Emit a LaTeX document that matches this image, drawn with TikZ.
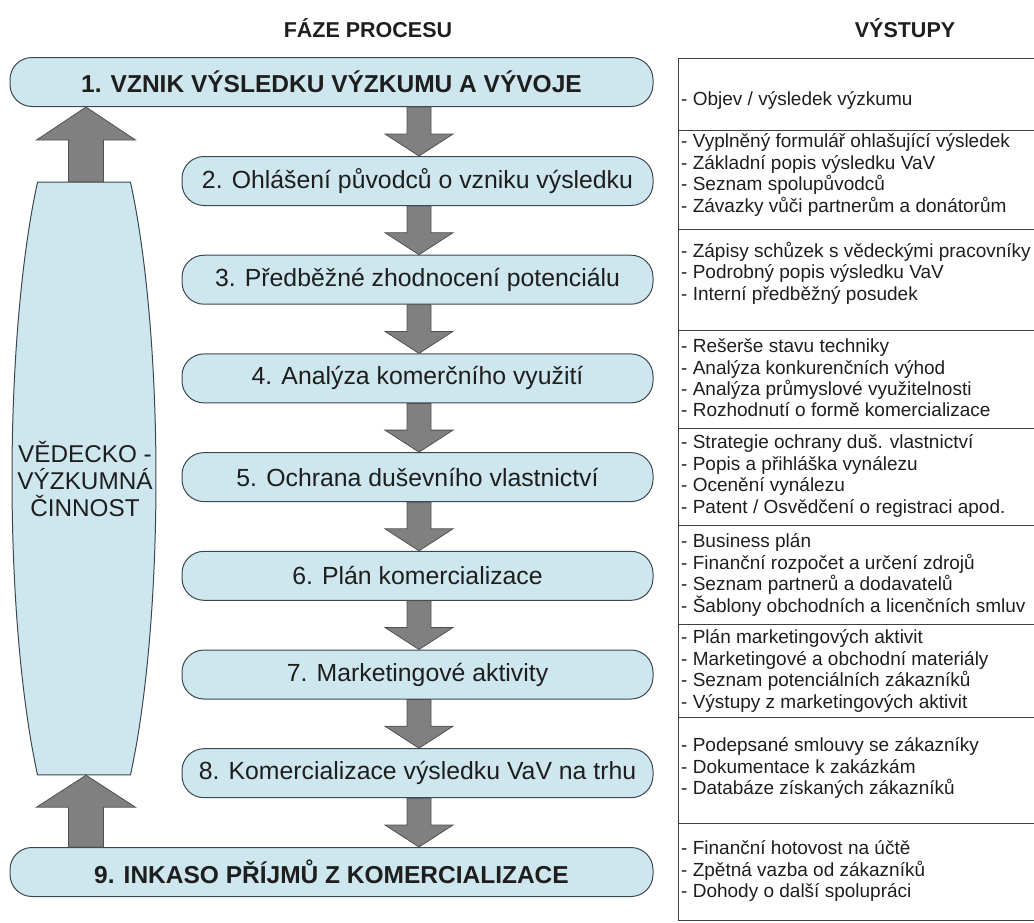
\documentclass[tikz,border=0pt]{standalone}
\usepackage{fontspec}
\setmainfont{Liberation Sans}
\usetikzlibrary{calc}
\definecolor{boxfill}{RGB}{206,231,239}
\definecolor{boxline}{RGB}{60,72,80}
\definecolor{arrfill}{RGB}{128,128,128}
\definecolor{arrline}{RGB}{80,80,80}
\definecolor{txt}{RGB}{30,30,30}
\begin{document}
\begin{tikzpicture}[x=1pt,y=-1pt,
  phase/.style={draw=boxline, fill=boxfill, line width=1pt, rounded corners=22pt, inner sep=0pt,
    minimum height=49pt, text=txt, font=\fontsize{24.8}{28}\selectfont},
  bigphase/.style={phase, font=\fontsize{24.5}{28}\selectfont\bfseries},
  outtext/.style={anchor=west, align=left, inner sep=0pt, text=txt, font=\fontsize{19}{21.4}\selectfont},
  head/.style={font=\fontsize{21.5}{26}\selectfont\bfseries, text=txt},
  blk/.style={fill=arrfill, draw=arrline, line width=0.8pt, line join=miter},
  rowline/.style={draw=black!75, line width=1pt}]
\useasboundingbox (0,0) rectangle (1034,922);

% headings
\node[head] (h1) at (368,28) {FÁZE PROCESU};
\node[head] (h2) at (905,28) {VÝSTUPY};

% research ellipse
\filldraw[draw=boxline, fill=boxfill, line width=1pt]
  plot[domain=130.2:229.8, samples=60, smooth] ({84+72*cos(\x)},{478.5-388*sin(\x)})
  -- plot[domain=-49.8:49.8, samples=60, smooth] ({84+72*cos(\x)},{478.5-388*sin(\x)}) -- cycle;
\node[minimum width=144pt, minimum height=593pt, inner sep=0pt, align=center, text=txt,
  font=\fontsize{24.3}{27}\selectfont] (ell) at (85,478.5) {VĚDECKO -\\VÝZKUMNÁ\\ČINNOST};

% phases
\node[bigphase, minimum width=643pt] (b1) at (331.5,82) {1. VZNIK VÝSLEDKU VÝZKUMU A VÝVOJE};
\node[phase, minimum width=471pt] (b2) at (417.5,181) {2. Ohlášení původců o vzniku výsledku};
\node[phase, minimum width=471pt] (b3) at (417.5,279.7) {3. Předběžné zhodnocení potenciálu};
\node[phase, minimum width=471pt] (b4) at (417.5,378.4) {4. Analýza komerčního využití};
\node[phase, minimum width=471pt] (b5) at (417.5,477.1) {5. Ochrana duševního vlastnictví};
\node[phase, minimum width=471pt] (b6) at (417.5,575.8) {6. Plán komercializace};
\node[phase, minimum width=471pt] (b7) at (417.5,674.5) {7. Marketingové aktivity};
\node[phase, minimum width=471pt] (b8) at (417.5,773.2) {8. Komercializace výsledku VaV na trhu};
\node[bigphase, minimum width=643pt] (b9) at (331.5,872) {9. INKASO PŘÍJMŮ Z KOMERCIALIZACE};

% block arrows
\coordinate (dx) at (419,0);
\coordinate (lx) at (86,0);
\newcommand{\blkdown}[2]{%
  \filldraw[blk] ($(#1.south -| dx)+(-12,0)$) -- ($(#1.south -| dx)+(12,0)$)
    -- ($(#2.north -| dx)+(12,-22)$) -- ($(#2.north -| dx)+(34,-22)$) -- (#2.north -| dx)
    -- ($(#2.north -| dx)+(-34,-22)$) -- ($(#2.north -| dx)+(-12,-22)$) -- cycle;}
\blkdown{b1}{b2}
\blkdown{b2}{b3}
\blkdown{b3}{b4}
\blkdown{b4}{b5}
\blkdown{b5}{b6}
\blkdown{b6}{b7}
\blkdown{b7}{b8}
\blkdown{b8}{b9}
\filldraw[blk] ($(ell.north -| lx)+(-17.5,0)$) -- ($(ell.north -| lx)+(17.5,0)$)
  -- ($(b1.south -| lx)+(17.5,33)$) -- ($(b1.south -| lx)+(49.5,33)$) -- (b1.south -| lx)
  -- ($(b1.south -| lx)+(-49.5,33)$) -- ($(b1.south -| lx)+(-17.5,33)$) -- cycle;
\filldraw[blk] ($(b9.north -| lx)+(-17.5,0)$) -- ($(b9.north -| lx)+(17.5,0)$)
  -- ($(ell.south -| lx)+(17.5,32)$) -- ($(ell.south -| lx)+(49.5,32)$) -- (ell.south -| lx)
  -- ($(ell.south -| lx)+(-49.5,32)$) -- ($(ell.south -| lx)+(-17.5,32)$) -- cycle;

% outputs table
\draw[rowline] (678,58) -- (678,920);
\foreach \yy in {58,130,229,330,428,525,624,717,823,920}
  \draw[rowline] (678,\yy) -- (1034,\yy);

\node[outtext] (o1) at (681,100) {- Objev / výsledek výzkumu};
\node[outtext] (o2) at (681,175) {- Vyplněný formulář ohlašující výsledek\\- Základní popis výsledku VaV\\- Seznam spolupůvodců\\- Závazky vůči partnerům a donátorům};
\node[outtext] (o3) at (681,273) {- Zápisy schůzek s vědeckými pracovníky\\- Podrobný popis výsledku VaV\\- Interní předběžný posudek};
\node[outtext] (o4) at (681,378) {- Rešerše stavu techniky\\- Analýza konkurenčních výhod\\- Analýza průmyslové využitelnosti\\- Rozhodnutí o formě komercializace};
\node[outtext] (o5) at (681,476) {- Strategie ochrany duš. vlastnictví\\- Popis a přihláška vynálezu\\- Ocenění vynálezu\\- Patent / Osvědčení o registraci apod.};
\node[outtext] (o6) at (681,575) {- Business plán\\- Finanční rozpočet a určení zdrojů\\- Seznam partnerů a dodavatelů\\- Šablony obchodních a licenčních smluv};
\node[outtext] (o7) at (681,671) {- Plán marketingových aktivit\\- Marketingové a obchodní materiály\\- Seznam potenciálních zákazníků\\- Výstupy z marketingových aktivit};
\node[outtext] (o8) at (681,768) {- Podepsané smlouvy se zákazníky\\- Dokumentace k zakázkám\\- Databáze získaných zákazníků};
\node[outtext] (o9) at (681,871) {- Finanční hotovost na účtě\\- Zpětná vazba od zákazníků\\- Dohody o další spolupráci};
\end{tikzpicture}
\end{document}
